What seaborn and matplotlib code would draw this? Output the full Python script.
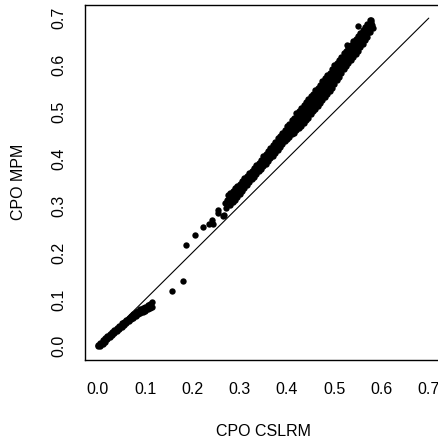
import numpy as np
import pandas as pd
import matplotlib
matplotlib.use("Agg")
import matplotlib.pyplot as plt
import seaborn as sns

# ---------------------------
# Values
# ---------------------------
# lower cluster (CPO CSLRM < 0.12), two rows of points
low_x = [0.000, 0.005, 0.010, 0.015, 0.020, 0.025, 0.030, 0.035, 0.040, 0.045, 0.050, 0.055,
         0.060, 0.065, 0.070, 0.075, 0.080, 0.085, 0.090, 0.095, 0.100, 0.105, 0.110, 0.115]
low_hi = [0.002, 0.008, 0.013, 0.017, 0.022, 0.026, 0.031, 0.035, 0.040, 0.044, 0.049, 0.053,
          0.057, 0.061, 0.065, 0.069, 0.073, 0.076, 0.079, 0.082, 0.085, 0.088, 0.091, 0.094]
low_lo = [0.000, 0.001, 0.006, 0.010, 0.015, 0.019, 0.024, 0.028, 0.033, 0.037, 0.042, 0.046,
          0.050, 0.054, 0.058, 0.061, 0.065, 0.068, 0.071, 0.074, 0.076, 0.079, 0.082, 0.085]

# scattered points between the two clusters
mid_x = [0.156, 0.180, 0.187, 0.206, 0.223, 0.234, 0.241, 0.244, 0.253, 0.255,
         0.264, 0.266, 0.269, 0.272, 0.276, 0.274, 0.527, 0.551, 0.578, 0.580, 0.582]
mid_y = [0.119, 0.139, 0.216, 0.238, 0.255, 0.261, 0.270, 0.262, 0.290, 0.284,
         0.279, 0.281, 0.306, 0.296, 0.322, 0.312, 0.642, 0.684, 0.697, 0.686, 0.680]

# main band (CPO CSLRM 0.28 - 0.58): upper, middle and lower rows
band_x = [0.280, 0.285, 0.290, 0.295, 0.300, 0.305, 0.310, 0.315, 0.320, 0.325,
          0.330, 0.335, 0.340, 0.345, 0.350, 0.355, 0.360, 0.365, 0.370, 0.375,
          0.380, 0.385, 0.390, 0.395, 0.400, 0.405, 0.410, 0.415, 0.420, 0.425,
          0.430, 0.435, 0.440, 0.445, 0.450, 0.455, 0.460, 0.465, 0.470, 0.475,
          0.480, 0.485, 0.490, 0.495, 0.500, 0.505, 0.510, 0.515, 0.520, 0.525,
          0.530, 0.535, 0.540, 0.545, 0.550, 0.555, 0.560, 0.565, 0.570, 0.575]
band_hi = [0.327, 0.332, 0.337, 0.342, 0.347, 0.352, 0.358, 0.363, 0.369, 0.374,
           0.380, 0.386, 0.392, 0.398, 0.407, 0.411, 0.417, 0.423, 0.430, 0.436,
           0.445, 0.449, 0.456, 0.462, 0.471, 0.475, 0.482, 0.488, 0.497, 0.501,
           0.508, 0.514, 0.522, 0.527, 0.533, 0.539, 0.547, 0.552, 0.558, 0.565,
           0.573, 0.578, 0.584, 0.591, 0.599, 0.604, 0.610, 0.617, 0.625, 0.630,
           0.636, 0.643, 0.651, 0.656, 0.662, 0.669, 0.675, 0.682, 0.688, 0.695]
band_mid = [0.314, 0.320, 0.325, 0.331, 0.336, 0.342, 0.348, 0.354, 0.360, 0.365,
            0.371, 0.377, 0.383, 0.388, 0.394, 0.400, 0.406, 0.412, 0.418, 0.425,
            0.431, 0.437, 0.443, 0.450, 0.456, 0.461, 0.467, 0.472, 0.478, 0.483,
            0.489, 0.495, 0.501, 0.507, 0.514, 0.520, 0.526, 0.532, 0.538, 0.545,
            0.551, 0.558, 0.564, 0.571, 0.578, 0.585, 0.592, 0.600, 0.607, 0.614,
            0.620, 0.627, 0.633, 0.640, 0.646, 0.653, 0.660, 0.667, 0.674, 0.683]
band_lo = [0.302, 0.307, 0.313, 0.319, 0.326, 0.332, 0.338, 0.344, 0.351, 0.356,
           0.362, 0.367, 0.373, 0.378, 0.384, 0.389, 0.395, 0.401, 0.407, 0.413,
           0.419, 0.425, 0.431, 0.437, 0.443, 0.447, 0.452, 0.456, 0.461, 0.465,
           0.470, 0.476, 0.482, 0.488, 0.495, 0.501, 0.507, 0.513, 0.519, 0.525,
           0.532, 0.538, 0.544, 0.552, 0.560, 0.567, 0.575, 0.583, 0.591, 0.598,
           0.604, 0.611, 0.617, 0.624, 0.630, 0.638, 0.645, 0.653, 0.660, 0.671]

# in-between rows of the band, shifted half a step along CPO CSLRM
band2_x = [0.2825, 0.2875, 0.2925, 0.2975, 0.3025, 0.3075, 0.3125, 0.3175, 0.3225, 0.3275,
           0.3325, 0.3375, 0.3425, 0.3475, 0.3525, 0.3575, 0.3625, 0.3675, 0.3725, 0.3775,
           0.3825, 0.3875, 0.3925, 0.3975, 0.4025, 0.4075, 0.4125, 0.4175, 0.4225, 0.4275,
           0.4325, 0.4375, 0.4425, 0.4475, 0.4525, 0.4575, 0.4625, 0.4675, 0.4725, 0.4775,
           0.4825, 0.4875, 0.4925, 0.4975, 0.5025, 0.5075, 0.5125, 0.5175, 0.5225, 0.5275,
           0.5325, 0.5375, 0.5425, 0.5475, 0.5525, 0.5575, 0.5625, 0.5675, 0.5725, 0.5775]
band2_up = [0.324, 0.329, 0.334, 0.340, 0.345, 0.350, 0.356, 0.362, 0.368, 0.373,
            0.379, 0.385, 0.391, 0.396, 0.404, 0.409, 0.415, 0.421, 0.427, 0.434,
            0.441, 0.446, 0.453, 0.459, 0.467, 0.471, 0.478, 0.483, 0.491, 0.495,
            0.502, 0.508, 0.515, 0.520, 0.527, 0.533, 0.540, 0.545, 0.551, 0.558,
            0.565, 0.571, 0.577, 0.584, 0.592, 0.598, 0.604, 0.612, 0.619, 0.625,
            0.631, 0.638, 0.645, 0.651, 0.657, 0.664, 0.671, 0.678, 0.684, 0.692]
band2_dn = [0.311, 0.317, 0.322, 0.328, 0.334, 0.340, 0.346, 0.352, 0.359, 0.364,
            0.370, 0.375, 0.381, 0.386, 0.392, 0.398, 0.404, 0.410, 0.416, 0.422,
            0.428, 0.434, 0.440, 0.447, 0.453, 0.457, 0.463, 0.467, 0.473, 0.477,
            0.483, 0.489, 0.495, 0.501, 0.508, 0.514, 0.520, 0.526, 0.532, 0.538,
            0.545, 0.551, 0.557, 0.565, 0.572, 0.579, 0.587, 0.595, 0.602, 0.609,
            0.615, 0.622, 0.628, 0.635, 0.641, 0.649, 0.656, 0.663, 0.670, 0.680]

# reference line y = x
diag_x = [0.0, 0.7]
diag_y = [0.0, 0.7]

ticks = [0.0, 0.1, 0.2, 0.3, 0.4, 0.5, 0.6, 0.7]
tick_labels = ["0.0", "0.1", "0.2", "0.3", "0.4", "0.5", "0.6", "0.7"]

# ---------------------------
# Build the table
# ---------------------------
df = pd.concat([
    pd.DataFrame({"cslrm": low_x, "mpm": low_hi}),
    pd.DataFrame({"cslrm": low_x, "mpm": low_lo}),
    pd.DataFrame({"cslrm": mid_x, "mpm": mid_y}),
    pd.DataFrame({"cslrm": band_x, "mpm": band_hi}),
    pd.DataFrame({"cslrm": band_x, "mpm": band_mid}),
    pd.DataFrame({"cslrm": band_x, "mpm": band_lo}),
    pd.DataFrame({"cslrm": band2_x, "mpm": band2_up}),
    pd.DataFrame({"cslrm": band2_x, "mpm": band2_dn}),
], ignore_index=True)

# ---------------------------
# Plot
# ---------------------------
sns.set_style("white")
plt.rcParams["font.family"] = ["Liberation Sans", "DejaVu Sans"]

fig = plt.figure(figsize=(4.38, 4.38), dpi=100)
# plot box runs past the right edge of the picture, as in the original
ax = fig.add_axes([84.7 / 438, (438 - 359.5) / 438, (442 - 84.7) / 438, (359.5 - 5) / 438])

sns.lineplot(x=diag_x, y=diag_y, color="black", linewidth=0.8, ax=ax, zorder=1)
sns.scatterplot(data=df, x="cslrm", y="mpm", color="black", s=21, linewidth=0,
                ax=ax, zorder=2)

ax.set_xlim(-0.028, 0.728)
ax.set_ylim(-0.028, 0.728)
ax.set_xticks(ticks)
ax.set_xticklabels(tick_labels)
ax.set_yticks(ticks)
ax.set_yticklabels(tick_labels, rotation=90, va="center")

for side in ["left", "right", "top", "bottom"]:
    ax.spines[side].set_visible(True)
    ax.spines[side].set_color("black")
    ax.spines[side].set_linewidth(1.0)

ax.tick_params(axis="both", direction="out", length=5, width=0.8, color="black",
               labelsize=11.5, labelcolor="black")
ax.tick_params(axis="x", pad=11)
ax.tick_params(axis="y", pad=8)

ax.set_xlabel("CPO CSLRM", fontsize=11.5, color="black")
ax.set_ylabel("CPO MPM", fontsize=11.5, color="black")
ax.xaxis.set_label_coords(0.5, -0.2045)
ax.xaxis.label.set_va("center")
ax.yaxis.set_label_coords(-0.1839, 0.5)
ax.yaxis.label.set_va("center")

fig.savefig("out.png", dpi=100, facecolor="white")
